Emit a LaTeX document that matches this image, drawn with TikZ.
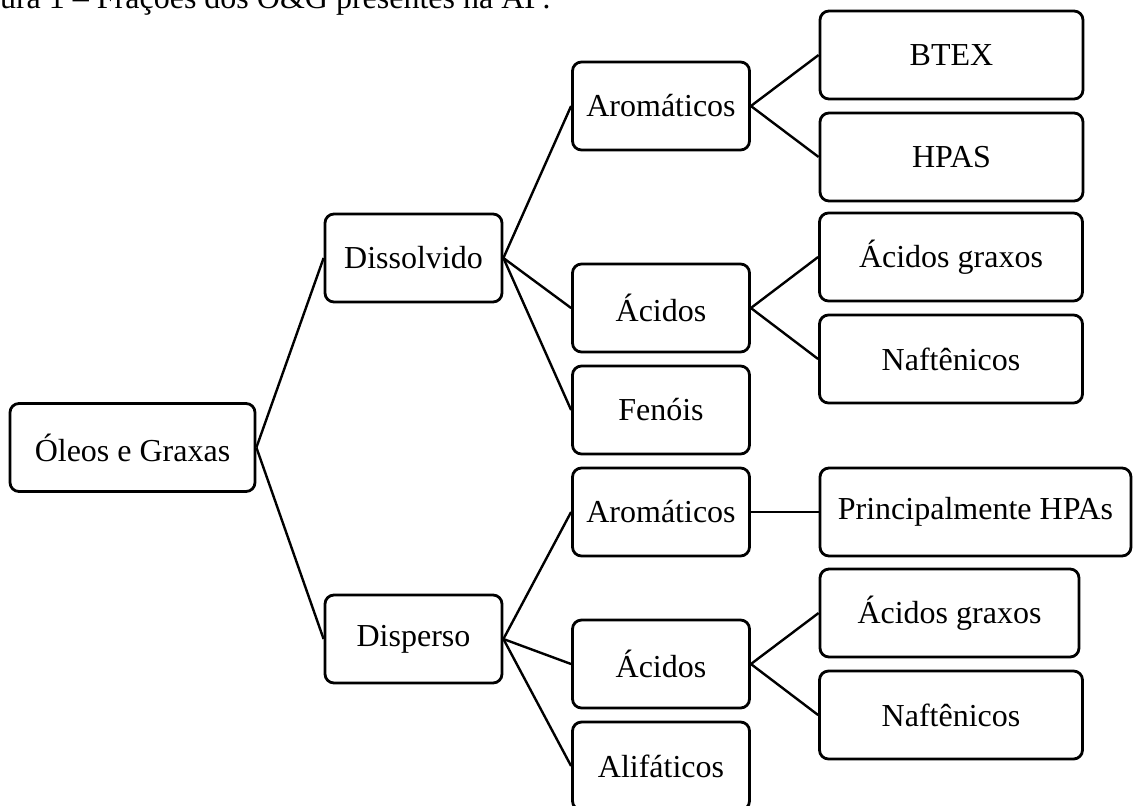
\documentclass[tikz,border=0pt]{standalone}
\usepackage{fontspec}
\setmainfont{Liberation Serif}
\begin{document}
\begin{tikzpicture}[x=0.5pt,y=-0.5pt,
  box/.style={draw,line width=1.4pt,rounded corners=4.5pt,minimum height=44pt,inner sep=0pt,font=\fontsize{16}{19}\selectfont},
  mid/.style={box,minimum width=88.5pt},
  leaf/.style={box,minimum width=131.5pt},
  link/.style={line width=1.2pt}]
\useasboundingbox (0,0) rectangle (1133,805);
\clip (0,0) rectangle (1133,805);
\node[anchor=base west,inner sep=0pt,font=\fontsize{16}{19}\selectfont] (caption) at (-43,8) {Figura 1 – Frações dos O\&G presentes na AP:};
\node[box,minimum width=122.5pt] (oleos) at (132.5,447.5) {Óleos e Graxas};
\node[mid] (dissolvido) at (413.5,258) {Dissolvido};
\node[mid] (disperso) at (413.5,639) {Disperso};
\node[mid] (aromA) at (661,106) {Aromáticos};
\node[mid] (acidA) at (661,308) {Ácidos};
\node[mid] (fenois) at (661,410) {Fenóis};
\node[mid] (aromB) at (661,512) {Aromáticos};
\node[mid] (acidB) at (661,664) {Ácidos};
\node[mid] (alif) at (661,766) {Alifáticos};
\node[leaf] (btex) at (951.5,55) {BTEX};
\node[leaf] (hpas) at (951.5,157) {HPAS};
\node[leaf] (graxA) at (951,257) {Ácidos graxos};
\node[leaf] (naftA) at (951,359) {Naftênicos};
\node[box,minimum width=155.5pt] (princ) at (975.5,512) {Principalmente HPAs};
\node[leaf,minimum width=129.5pt] (graxB) at (949.5,613) {Ácidos graxos};
\node[leaf] (naftB) at (951,715) {Naftênicos};
\draw[link] (oleos.east) -- (dissolvido.west);
\draw[link] (oleos.east) -- (disperso.west);
\draw[link] (dissolvido.east) -- (aromA.west);
\draw[link] (dissolvido.east) -- (acidA.west);
\draw[link] (dissolvido.east) -- (fenois.west);
\draw[link] (disperso.east) -- (aromB.west);
\draw[link] (disperso.east) -- (acidB.west);
\draw[link] (disperso.east) -- (alif.west);
\draw[link] (aromA.east) -- (btex.west);
\draw[link] (aromA.east) -- (hpas.west);
\draw[link] (acidA.east) -- (graxA.west);
\draw[link] (acidA.east) -- (naftA.west);
\draw[link] (aromB.east) -- (princ.west);
\draw[link] (acidB.east) -- (graxB.west);
\draw[link] (acidB.east) -- (naftB.west);
\end{tikzpicture}
\end{document}
